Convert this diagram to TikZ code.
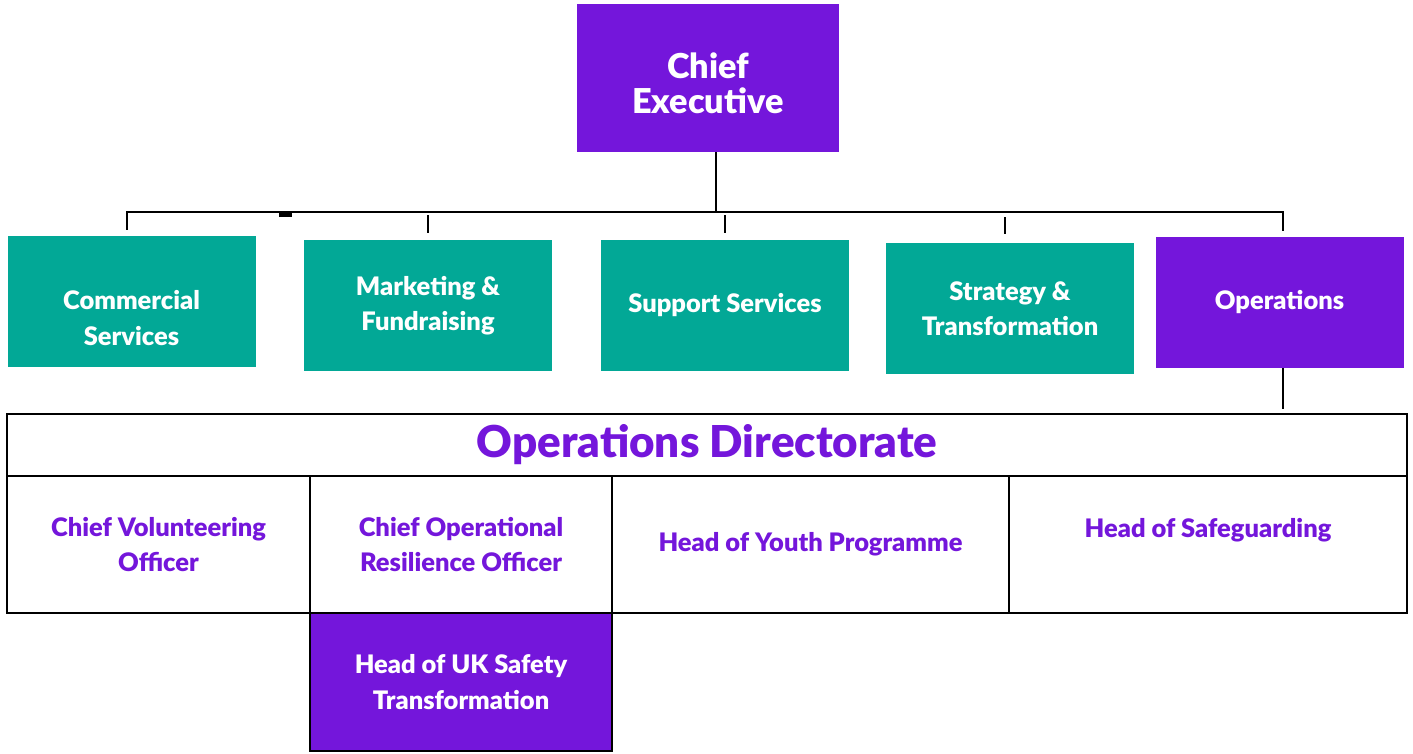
\documentclass[tikz,border=0pt]{standalone}
\usepackage{fontspec}
\setmainfont{Lato}[BoldFont={Lato Black}]
\usepackage{tikz}

\definecolor{orgpurple}{HTML}{7416DB}
\definecolor{orgteal}{HTML}{02A896}

\tikzset{
  unit/.style={minimum width=4.96cm, minimum height=2.62cm, inner sep=0pt, align=center,
    text=white, font=\fontsize{14.5}{20}\selectfont\bfseries},
  tealunit/.style={unit, fill=orgteal},
  purpleunit/.style={unit, fill=orgpurple},
  cell/.style={draw, line width=1.1pt, minimum height=2.74cm, inner sep=0pt, align=center,
    text=orgpurple, font=\fontsize{14.5}{20}\selectfont\bfseries},
  link/.style={line width=1.1pt},
}

\begin{document}
\begin{tikzpicture}
\useasboundingbox (0,0) rectangle (28.26,-15.06);

% top of the tree
\node[purpleunit, minimum width=5.24cm, minimum height=2.96cm,
  label={[text=white, align=center, font=\fontsize{19.5}{20}\selectfont\bfseries, yshift=-0.1cm]center:{Chief\\Executive}}] (ceo) at (14.16,-1.56) {};

% directorates
\node[tealunit, label={[text=white, align=center, font=\fontsize{14.5}{20}\selectfont\bfseries, yshift=-0.33cm]center:{Commercial\\Services}}] (com) at (2.63,-6.03) {};
\node[tealunit] (mkt) at (8.56,-6.11) {Marketing \&\\Fundraising};
\node[tealunit] (sup) at (14.50,-6.11) {Support Services};
\node[tealunit] (str) at (20.20,-6.17) {Strategy \&\\Transformation};
\node[purpleunit] (ops) at (25.59,-6.05) {Operations};

% connectors
\coordinate (bus) at (14.32,-4.24);
\draw[link] ([xshift=0.16cm]ceo.south) -- ([xshift=0.16cm]ceo.south |- bus);
\draw[link] ([xshift=-0.09cm,yshift=0.12cm]com.north) |- (bus) -| ([xshift=0.07cm,yshift=0.12cm]ops.north);
\draw[link] ([yshift=0.14cm]mkt.north) -- ([yshift=0.5cm]mkt.north);
\draw[link] ([yshift=0.14cm]sup.north) -- ([yshift=0.5cm]sup.north);
\draw[link] ([xshift=-0.1cm,yshift=0.18cm]str.north) -- ([xshift=-0.1cm,yshift=0.52cm]str.north);
\fill (5.58,-4.26) rectangle (5.84,-4.34);

% operations directorate table
\node[cell, minimum width=28cm, minimum height=1.24cm,
  font=\fontsize{25}{26}\selectfont\bfseries] (hdr) at (14.14,-8.90) {Operations Directorate};
\draw[link] ([xshift=0.07cm]ops.south) -- ([xshift=0.07cm,yshift=0.08cm]ops.south |- hdr.north);
\node[cell, minimum width=6.06cm] (cvo) at (3.17,-10.89) {Chief Volunteering\\Officer};
\node[cell, minimum width=6.04cm] (coro) at (9.22,-10.89) {Chief Operational\\Resilience Officer};
\node[cell, minimum width=7.94cm] (youth) at (16.21,-10.89) {Head of Youth Programme};
\node[cell, minimum width=7.96cm, label={[text=orgpurple, font=\fontsize{14.5}{20}\selectfont\bfseries, yshift=0.29cm]center:Head of Safeguarding}] (safe) at (24.16,-10.89) {};
\node[cell, minimum width=6.04cm, minimum height=2.76cm, fill=orgpurple, text=white] (uksafe) at (9.22,-13.64) {Head of UK Safety\\Transformation};

\end{tikzpicture}
\end{document}
